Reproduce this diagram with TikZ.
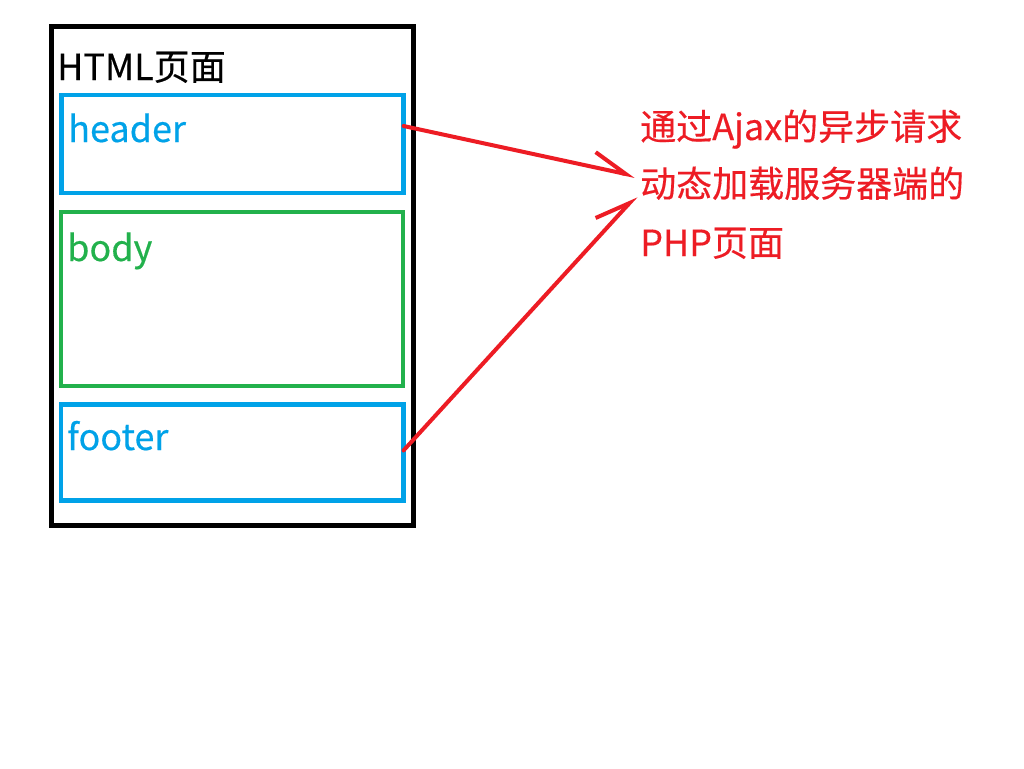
\documentclass[tikz,border=0pt]{standalone}
\usepackage{fontspec}
\setmainfont{Noto Sans CJK SC}[FakeBold=0.4]
\usetikzlibrary{arrows.meta}
\definecolor{pblue}{RGB}{0,162,232}
\definecolor{pgreen}{RGB}{34,177,76}
\definecolor{pred}{RGB}{237,28,36}
\tikzset{
  box/.style={draw, rectangle, line width=4.5pt, outer sep=0pt, inner sep=0pt, anchor=north west},
  lbl/.style={anchor=base west, inner sep=0pt, font=\fontsize{36}{40}\selectfont},
  link/.style={draw=pred, line width=4pt, line cap=round, line join=round,
    -{Straight Barb[harpoon, length=34pt, width=30pt, line width=4pt]}}
}
\begin{document}
\begin{tikzpicture}[x=1pt,y=-1pt]
\useasboundingbox[fill=white] (0,0) rectangle (1024,768);
\node[box, draw=black, line width=5pt, minimum width=361.5pt, minimum height=498.5pt] (page) at (51.5,26.5) {};
\node[box, draw=pblue, minimum width=342pt, minimum height=98pt] (header) at (61.5,95) {};
\node[box, draw=pgreen, minimum width=342pt, minimum height=174pt] (body) at (61,212) {};
\node[box, draw=pblue, minimum width=342.5pt, minimum height=96pt] (footer) at (61,404.5) {};
\node[lbl] (title) at (57,80) {HTML页面};
\node[lbl, text=pblue] (headerlbl) at (68,142) {header};
\node[lbl, text=pgreen] (bodylbl) at (67,261) {body};
\node[lbl, text=pblue] (footerlbl) at (67,450) {footer};
\node[lbl, text=pred] (note1) at (640,140) {通过Ajax的异步请求};
\node[lbl, text=pred] (note2) at (640,197) {动态加载服务器端的};
\node[lbl, text=pred] (note3) at (640,256) {PHP页面};
\coordinate (tip1) at (635,176);
\coordinate (tip2) at (636,196);
\draw[link] ([yshift=18pt]header.east) -- (tip1);
\draw[link] ([yshift=2pt]footer.east) -- (tip2);
\end{tikzpicture}
\end{document}
